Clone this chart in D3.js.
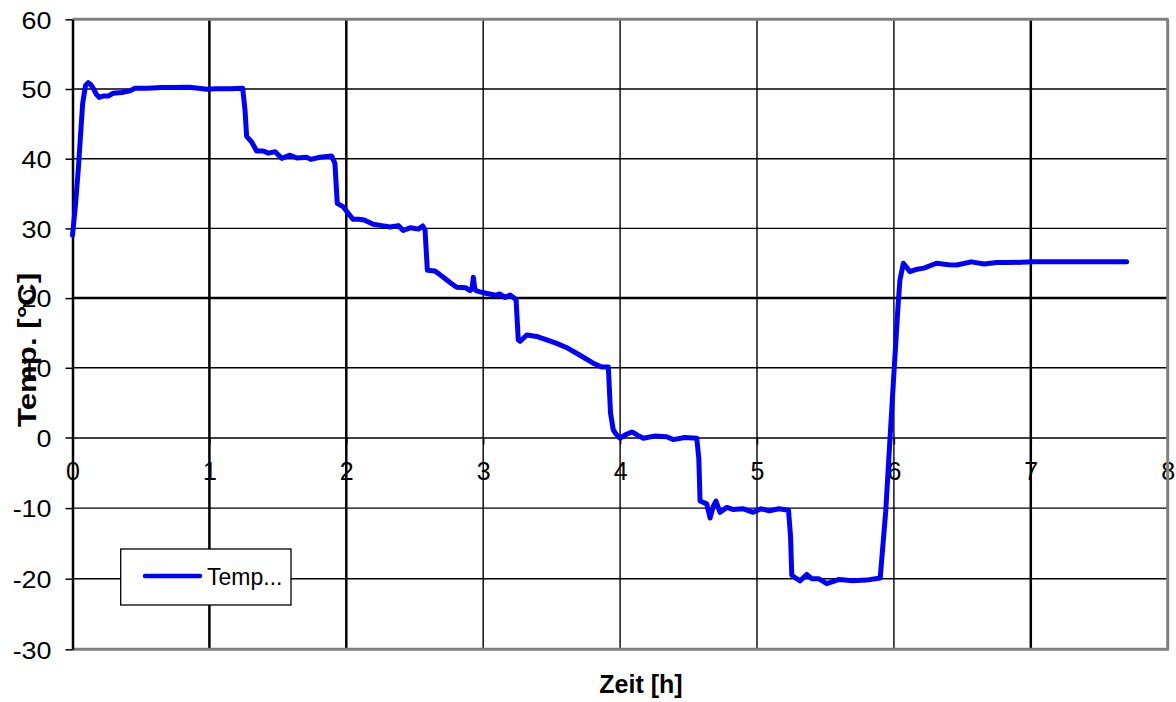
<!DOCTYPE html>
<html>
<head>
<meta charset="utf-8">
<script src="https://cdn.jsdelivr.net/npm/d3@7/dist/d3.min.js"></script>
<style>
html,body{margin:0;padding:0;background:#fff;}
svg{display:block;}
text{font-family:"Liberation Sans",Arial,sans-serif;}
</style>
</head>
<body>
<svg id="chart" width="1176" height="702"></svg>
<script>
// ---- data ----
const timeH = [0.0,0.02,0.042,0.074,0.095,0.115,0.135,0.152,0.175,0.196,0.23,0.262,0.298,0.36,0.42,0.457,0.55,0.65,0.75,0.85,0.92,0.98,1.05,1.15,1.243,1.26,1.272,1.309,1.345,1.394,1.43,1.48,1.528,1.589,1.64,1.71,1.74,1.808,1.893,1.917,1.934,1.978,2.02,2.05,2.09,2.13,2.197,2.26,2.319,2.38,2.416,2.47,2.526,2.558,2.575,2.592,2.648,2.709,2.76,2.806,2.87,2.904,2.918,2.928,2.938,2.947,2.977,3.02,3.09,3.12,3.159,3.196,3.24,3.256,3.27,3.318,3.39,3.464,3.537,3.62,3.707,3.80,3.866,3.914,3.93,3.95,3.97,4.0,4.04,4.085,4.096,4.13,4.17,4.25,4.34,4.39,4.47,4.56,4.575,4.584,4.633,4.657,4.68,4.70,4.73,4.78,4.827,4.9,4.973,5.03,5.09,5.16,5.23,5.245,5.254,5.29,5.314,5.363,5.40,5.45,5.51,5.6,5.7,5.80,5.90,5.94,5.975,6.0,6.03,6.044,6.069,6.09,6.116,6.16,6.22,6.31,6.40,6.46,6.565,6.66,6.75,6.85,7.02,7.3,7.70];
const tempC = [29.0,33,38.4,47.9,50.5,50.9,50.6,50.1,49.2,48.8,49.0,49.0,49.4,49.5,49.75,50.1,50.1,50.2,50.2,50.25,50.1,49.96,50.05,50.05,50.1,47,43.2,42.4,41.1,41.1,40.8,41.0,40.05,40.5,40.1,40.2,39.9,40.2,40.4,39.3,33.6,33.1,32.0,31.3,31.3,31.2,30.6,30.4,30.2,30.4,29.7,30.1,29.9,30.35,29.8,24.0,23.9,23.0,22.2,21.55,21.5,21.06,21.3,23.0,21.4,21.06,20.9,20.7,20.4,20.6,20.1,20.45,19.8,14.0,13.8,14.7,14.5,14.0,13.5,12.8,11.8,10.7,10.1,10.1,3.5,1.1,0.5,-0.1,0.4,0.8,0.7,0.3,-0.1,0.2,0.1,-0.3,0.0,-0.1,-3,-9.0,-9.4,-11.4,-9.8,-9.0,-10.6,-9.9,-10.2,-10.1,-10.6,-10.1,-10.4,-10.1,-10.3,-14,-19.5,-20.0,-20.3,-19.4,-20.0,-20.0,-20.7,-20.1,-20.3,-20.2,-19.9,-10.5,1.0,9.2,18.8,22.6,25.0,24.5,23.8,24.1,24.3,25.0,24.8,24.75,25.2,24.9,25.1,25.1,25.2,25.2,25.2];
const xTicks = [0,1,2,3,4,5,6,7,8];
const yTicks = [-30,-20,-10,0,10,20,30,40,50,60];
const seriesName = "Temp...";
const xTitle = "Zeit [h]";
const yTitle = "Temp. [°C]";

// ---- layout ----
const svg = d3.select("#chart");
const L = 72.5, R = 1167.7, T = 19.3, B = 649.3;
const x = d3.scaleLinear().domain([0, 8]).range([L, R]);
const y = d3.scaleLinear().domain([-30, 0, 60]).range([B, 437.5, T]);
const thickV = new Set([1, 2, 7]);
const thickH = new Set([20]);
const fmt = d => String(d);

// grid
svg.append("g").selectAll("line").data(yTicks.filter(v => v > -30 && v < 60 && v !== 0)).join("line")
  .attr("x1", L).attr("x2", R).attr("y1", d => y(d)).attr("y2", d => y(d))
  .attr("stroke", "#000").attr("stroke-width", d => thickH.has(d) ? 2.5 : 1.4);
svg.append("g").selectAll("line").data(xTicks.filter(v => v > 0 && v < 8)).join("line")
  .attr("x1", d => x(d)).attr("x2", d => x(d)).attr("y1", T).attr("y2", B)
  .attr("stroke", "#000").attr("stroke-width", d => thickV.has(d) ? 2.5 : 1.4);

// x axis at y=0
const xAxis = d3.axisBottom(x).tickValues(xTicks).tickSize(7).tickSizeOuter(0).tickFormat(fmt);
const gx = svg.append("g").attr("transform", `translate(0,${y(0)})`).call(xAxis);
gx.select(".domain").attr("stroke", "#000").attr("stroke-width", 1.5);
gx.selectAll(".tick line").attr("stroke", "#000").attr("stroke-width", 1.5);
gx.selectAll(".tick text").attr("y", 42).attr("dy", 0)
  .attr("font-size", 25).attr("fill", "#000")
  .style("font-family", "'Liberation Sans',Arial,sans-serif");

// borders (grey)
svg.append("line").attr("x1", L).attr("x2", R + 1).attr("y1", T).attr("y2", T).attr("stroke", "#808080").attr("stroke-width", 3);
svg.append("line").attr("x1", R).attr("x2", R).attr("y1", T).attr("y2", B + 1).attr("stroke", "#808080").attr("stroke-width", 3);
svg.append("line").attr("x1", L).attr("x2", R + 1).attr("y1", B).attr("y2", B).attr("stroke", "#808080").attr("stroke-width", 3);

// y axis
const yAxis = d3.axisLeft(y).tickValues(yTicks).tickSize(7).tickSizeOuter(0).tickFormat(fmt);
const gy = svg.append("g").attr("transform", `translate(${L},0)`).call(yAxis);
gy.select(".domain").attr("stroke", "#000").attr("stroke-width", 2.5);
gy.selectAll(".tick line").attr("stroke", "#000").attr("stroke-width", 1.5);
gy.selectAll(".tick text").attr("x", null).attr("dy", null).attr("y", null)
  .attr("text-anchor", "end")
  .attr("transform", "translate(-21,8.7) scale(1.17,1)")
  .attr("font-size", 23).attr("fill", "#000")
  .style("font-family", "'Liberation Sans',Arial,sans-serif");

// series line
const line = d3.line().x((d, i) => x(timeH[i])).y(d => y(d));
svg.append("path").datum(tempC)
  .attr("d", line)
  .attr("fill", "none").attr("stroke", "#0000FF").attr("stroke-width", 5)
  .attr("stroke-linejoin", "round").attr("stroke-linecap", "round");

// legend
const lg = svg.append("g");
lg.append("rect").attr("x", 120.7).attr("y", 549).attr("width", 170.3).attr("height", 56)
  .attr("fill", "#fff").attr("stroke", "#000").attr("stroke-width", 1.3);
lg.append("line").attr("x1", 145).attr("x2", 200).attr("y1", 576).attr("y2", 576)
  .attr("stroke", "#0000FF").attr("stroke-width", 4.5).attr("stroke-linecap", "round");
lg.append("text").attr("x", 207).attr("y", 585).attr("font-size", 23).attr("fill", "#000").text(seriesName);

// titles
svg.append("text").attr("x", 641).attr("y", 693).attr("text-anchor", "middle")
  .attr("font-size", 25).attr("font-weight", "bold").attr("fill", "#000").text(xTitle);
svg.append("text").attr("transform", "translate(36,350) rotate(-90) scale(1.25,1)")
  .attr("text-anchor", "middle").attr("font-size", 25).attr("font-weight", "bold").attr("fill", "#000").text(yTitle);
</script>
</body>
</html>
